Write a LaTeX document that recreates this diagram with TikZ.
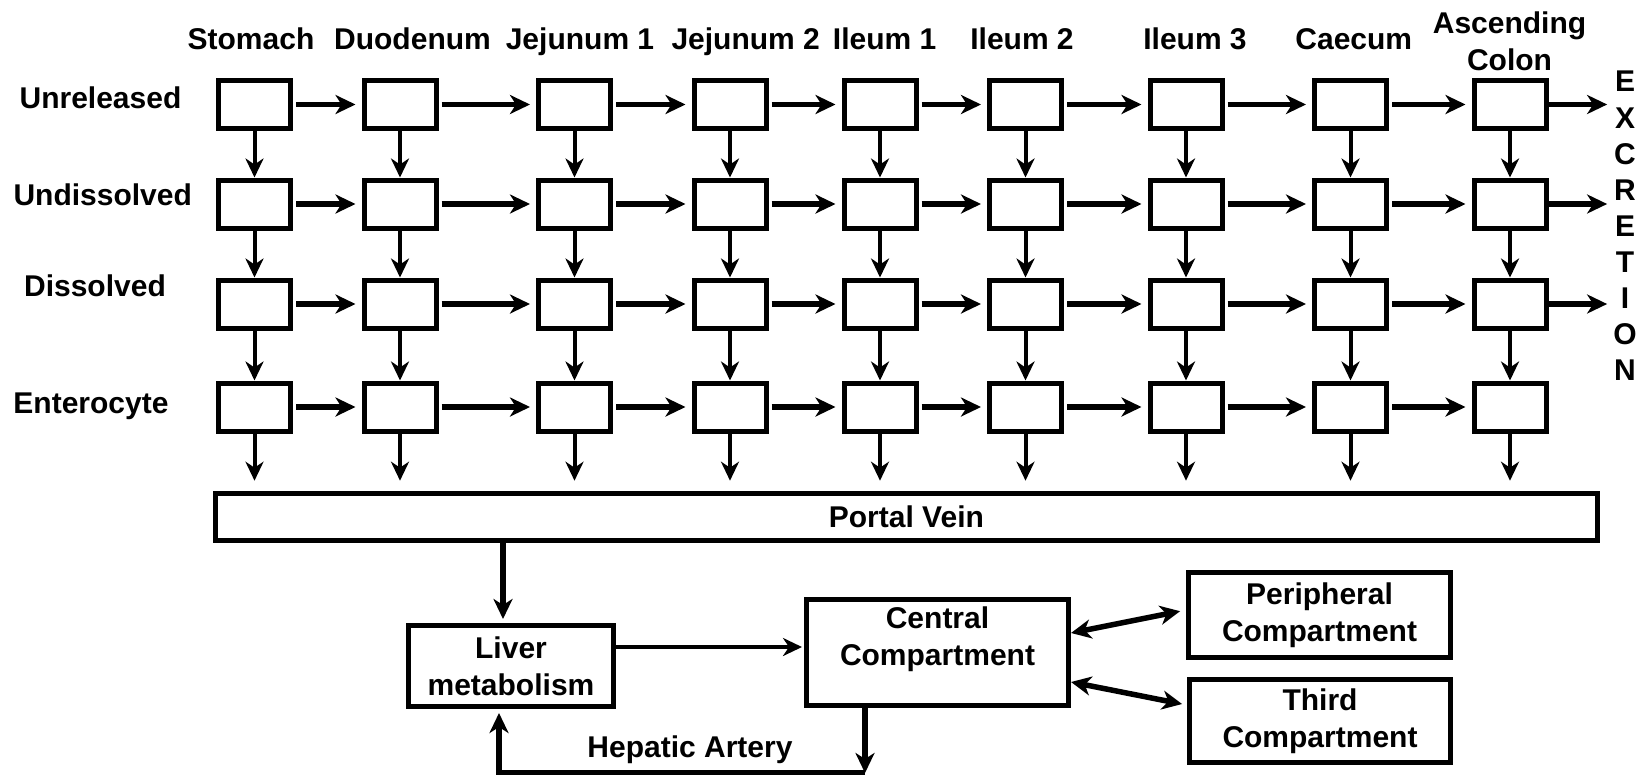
\documentclass[tikz,border=0pt]{standalone}
\usepackage{fontspec}
\setmainfont{Liberation Sans}
\usetikzlibrary{arrows.meta}

\tikzset{
  cell/.style={draw, line width=5pt, minimum width=72pt, minimum height=48pt, inner sep=0pt},
  bigbox/.style={draw, line width=5pt, inner sep=0pt, align=center, font=\bfseries\fontsize{30}{37}\selectfont},
  lab/.style={inner sep=0pt, font=\bfseries\fontsize{30}{37}\selectfont},
  flow/.style={line width=4pt, -{Stealth[length=19pt,width=18pt,inset=6pt]}},
  hflow/.style={line width=5.5pt, -{Stealth[length=20pt,width=19pt,inset=6pt]}},
  twoway/.style={line width=5.5pt, {Stealth[length=20pt,width=19pt,inset=6pt]}-{Stealth[length=20pt,width=19pt,inset=6pt]}}
}

\begin{document}
\begin{tikzpicture}[x=1pt,y=-1pt]
    \useasboundingbox (0,0) rectangle (1649,774);

    % Compartment grid
    \foreach \y [count=\r] in {104.5,204,304,407}
      \foreach \x [count=\c] in {254.5,400,574.5,730,880,1025.5,1186,1350.5,1510}
        \node[cell] (b\r\c) at (\x,\y) {};

    % Column labels
    \foreach \x/\t [count=\i] in {251/Stomach, 412.5/Duodenum, 580/Jejunum 1, 745.7/Jejunum 2,
        884.6/Ileum 1, 1022/Ileum 2, 1195/Ileum 3, 1353.8/Caecum}
      \node[lab, anchor=base] (top\i) at (\x,49.5) {\t};
    \node[lab, align=center] (top9) at (1509.5,41.7) {Ascending\\Colon};

    % Row labels
    \node[lab, anchor=base] (unrel) at (100.5,108.3) {Unreleased};
    \node[lab, anchor=base] (undis) at (102.7,205) {Undissolved};
    \node[lab, anchor=base] (dis) at (95,296.7) {Dissolved};
    \node[lab, anchor=base] (ent) at (91,413) {Enterocyte};

    \node[lab, align=center, font=\bfseries\fontsize{30}{36.1}\selectfont] (excr) at (1625,226)
      {E\\X\\C\\R\\E\\T\\I\\O\\N};

    % Transit along the gut
    \foreach \r in {1,...,4}
      \foreach \c/\nxt in {1/2,2/3,3/4,4/5,5/6,6/7,7/8,8/9}
        \draw[hflow, shorten <=3pt, shorten >=6pt] (b\r\c.east) -- (b\r\nxt.west);

    % Release, dissolution, uptake
    \foreach \r/\low in {1/2,2/3,3/4}
      \foreach \c in {1,...,9}
        \draw[flow] (b\r\c.south) -- (b\low\c.north);

    \foreach \r in {1,2,3}
      \draw[hflow, shorten >=6pt] (b\r9.east) -- (b\r9.east -| excr.west);

    % Portal vein
    \node[bigbox, minimum width=1382pt, minimum height=47pt] (pv) at (906.4,516.7) {Portal Vein};
    \foreach \c in {1,...,9}
      \draw[flow, shorten >=10pt] (b4\c.south) -- (b4\c.south |- pv.north);

    % Systemic part
    \node[bigbox, minimum width=205pt, minimum height=81pt] (lv) at (511,666) {Liver\\metabolism};
    \node[bigbox, minimum width=262pt, minimum height=106pt] (cc) at (937.5,652.5) {};
    \node[lab, align=center] (cctxt) at (937.5,639) {Central\\Compartment};
    \node[bigbox, minimum width=262pt, minimum height=85pt] (pc) at (1319.5,615) {Peripheral\\Compartment};
    \node[bigbox, minimum width=261pt, minimum height=83pt] (tc) at (1320,721) {Third\\Compartment};
    \node[lab] (ha) at (690,750) {Hepatic Artery};

    \coordinate (lvin) at ([xshift=-8pt]lv.north);
    \draw[hflow, shorten >=4pt] (pv.south -| lvin) -- (lvin);
    \draw[flow, shorten >=2pt] ([yshift=19pt]lv.east) -- ([yshift=19pt]lv.east -| cc.west);

    \coordinate (hbot) at (865,773);
    \coordinate (lvback) at ([xshift=-12pt]lv.south);
    \draw[hflow] (cc.south -| hbot) -- (hbot);
    \draw[hflow, shorten >=4pt] (hbot) -- (hbot -| lvback) -- (lvback);

    \draw[twoway, shorten >=6pt] ([yshift=19.5pt]cc.east) -- ([yshift=5pt]pc.west);
    \draw[twoway, shorten >=5pt] ([yshift=-29.5pt]cc.east) -- ([yshift=16pt]tc.west);
\end{tikzpicture}
\end{document}
